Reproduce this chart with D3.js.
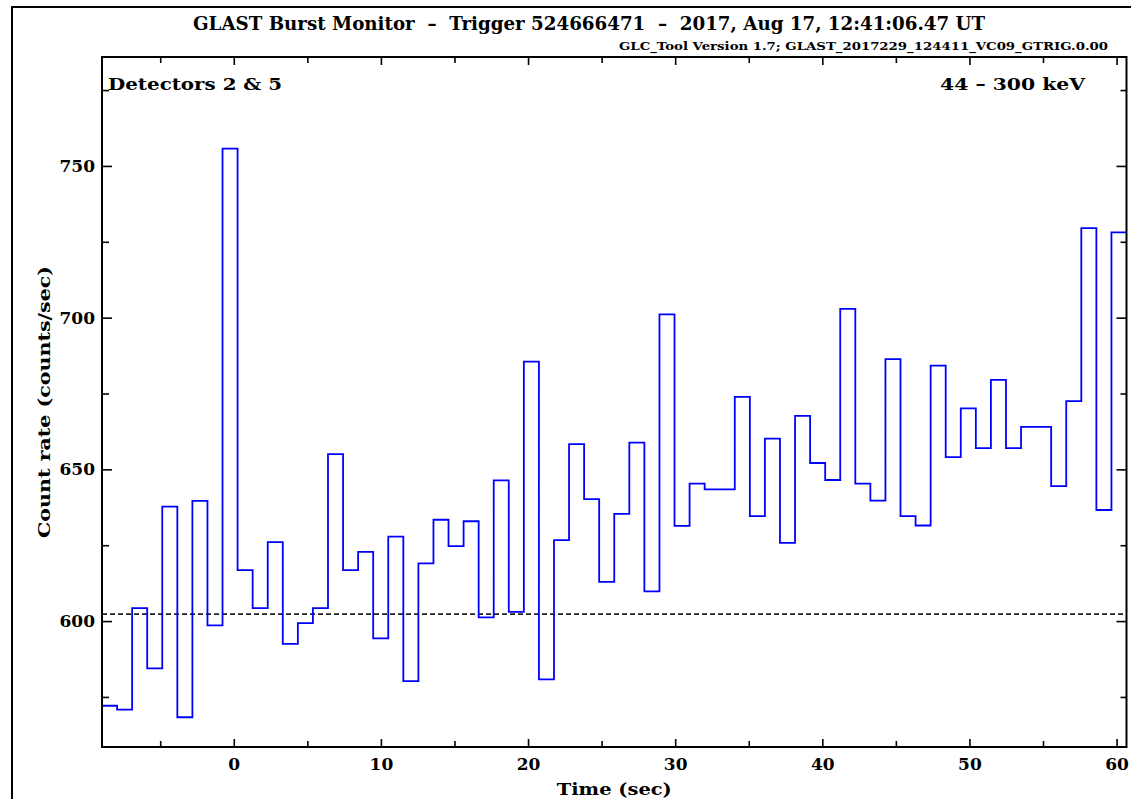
<!DOCTYPE html>
<html>
<head>
<meta charset="utf-8">
<script src="https://cdn.jsdelivr.net/npm/d3@7"></script>
<style>
  body { margin: 0; background: #fff; }
  svg { display: block; }
  text { font-family: "DejaVu Serif", serif; font-weight: bold; fill: #000; white-space: pre; }
</style>
</head>
<body>
<div id="chart"></div>
<script>
(function () {

  /**
   * data (1.024 s bins)
   */
  const binStart = -8.957;
  const binWidth = 1.024;
  const counts = [
    572.1, 570.8, 604.3, 584.4, 637.7, 568.3, 639.6, 598.6, 755.7, 616.8,
    604.3, 626.0, 592.5, 599.3, 604.3, 655.0, 616.8, 622.8, 594.3, 627.8,
    580.2, 619.0, 633.4, 624.7, 632.9, 601.2, 646.4, 603.0, 685.5, 580.8,
    626.7, 658.3, 640.2, 612.9, 635.3, 658.8, 609.8, 701.1, 631.4, 645.3,
    643.4, 643.4, 673.9, 634.6, 660.1, 625.8, 667.6, 652.1, 646.5, 702.9,
    645.3, 639.7, 686.3, 634.6, 631.5, 684.2, 654.0, 670.1, 657.0, 679.5,
    657.0, 664.0, 664.0, 644.5, 672.5, 729.5, 636.6, 728.1
  ];
  const background = 602.3;

  const xMajorTicks = [0, 10, 20, 30, 40, 50, 60];
  const xMinorTicks = [-5, 5, 15, 25, 35, 45, 55];
  const yMajorTicks = [600, 650, 700, 750];
  const yMinorTicks = [575, 625, 675, 725, 775];

  const title = "GLAST Burst Monitor  \u2013  Trigger 524666471  \u2013  2017, Aug 17, 12:41:06.47 UT";
  const subtitle = "GLC_Tool Version 1.7; GLAST_2017229_124411_VC09_GTRIG.0.00";

  const width = 1131;
  const height = 799;
  const margin = {left: 102, right: 4, top: 57, bottom: 52};

  const svg = d3.select("#chart").append("svg")
    .attr("width", width)
    .attr("height", height);

  // outer frame
  svg.append("rect")
    .attr("x", 12).attr("y", 7)
    .attr("width", 1140).attr("height", 820)
    .attr("fill", "none")
    .attr("stroke", "#000")
    .attr("stroke-width", 2);

  const x = d3.scaleLinear()
    .domain([binStart, binStart + counts.length * binWidth])
    .range([margin.left, width - margin.right - 0.5]);

  const y = d3.scaleLinear()
    .domain([558.5, 785.9])
    .range([height - margin.bottom, margin.top]);

  const x0 = x.range()[0], x1 = x.range()[1];
  const y0 = y.range()[0], y1 = y.range()[1];

  // axes, ticks pointing inward
  function axisStyle(g) {
    g.select(".domain").remove();
    g.selectAll(".tick line").attr("stroke", "#000").attr("stroke-width", 1.6);
    g.selectAll("text").style("font-size", "17px").style("font-family", "DejaVu Serif").style("font-weight", "bold");
  }

  svg.append("g")
    .attr("transform", "translate(0," + y0 + ")")
    .call(d3.axisBottom(x).tickValues(xMajorTicks).tickSize(-8).tickPadding(11).tickFormat(d3.format("d")))
    .call(axisStyle);
  svg.append("g")
    .attr("transform", "translate(0," + y0 + ")")
    .call(d3.axisBottom(x).tickValues(xMinorTicks).tickSize(-6).tickFormat(""))
    .call(axisStyle);
  svg.append("g")
    .attr("transform", "translate(0," + y1 + ")")
    .call(d3.axisTop(x).tickValues(xMajorTicks).tickSize(-8).tickFormat(""))
    .call(axisStyle);
  svg.append("g")
    .attr("transform", "translate(0," + y1 + ")")
    .call(d3.axisTop(x).tickValues(xMinorTicks).tickSize(-6).tickFormat(""))
    .call(axisStyle);

  svg.append("g")
    .attr("transform", "translate(" + x0 + ",0)")
    .call(d3.axisLeft(y).tickValues(yMajorTicks).tickSize(-10).tickPadding(7).tickFormat(d3.format("d")))
    .call(axisStyle);
  svg.append("g")
    .attr("transform", "translate(" + x0 + ",0)")
    .call(d3.axisLeft(y).tickValues(yMinorTicks).tickSize(-7).tickFormat(""))
    .call(axisStyle);
  svg.append("g")
    .attr("transform", "translate(" + x1 + ",0)")
    .call(d3.axisRight(y).tickValues(yMajorTicks).tickSize(-10).tickFormat(""))
    .call(axisStyle);
  svg.append("g")
    .attr("transform", "translate(" + x1 + ",0)")
    .call(d3.axisRight(y).tickValues(yMinorTicks).tickSize(-6).tickFormat(""))
    .call(axisStyle);

  // background level
  svg.append("line")
    .attr("x1", x0).attr("x2", x1)
    .attr("y1", y(background)).attr("y2", y(background))
    .attr("stroke", "#222")
    .attr("stroke-width", 1.6)
    .attr("stroke-dasharray", "5,3");

  // stepped lightcurve
  const steps = counts.map((c, i) => [binStart + i * binWidth, c]);
  steps.push([binStart + counts.length * binWidth, counts[counts.length - 1]]);

  const line = d3.line()
    .x(d => x(d[0]))
    .y(d => y(d[1]))
    .curve(d3.curveStepAfter);

  svg.append("path")
    .datum(steps)
    .attr("d", line)
    .attr("fill", "none")
    .attr("stroke", "#0000ff")
    .attr("stroke-width", 1.8);

  // plot frame
  svg.append("rect")
    .attr("x", x0).attr("y", y1)
    .attr("width", x1 - x0).attr("height", y0 - y1)
    .attr("fill", "none")
    .attr("stroke", "#000")
    .attr("stroke-width", 2);

  // texts (widths stretched to the monospace-like original)
  function label(str, px, py, len, anchor, size) {
    return svg.append("text")
      .attr("x", px).attr("y", py)
      .attr("text-anchor", anchor)
      .attr("textLength", len)
      .attr("lengthAdjust", "spacingAndGlyphs")
      .style("font-size", size + "px")
      .text(str);
  }

  label(title, 193, 30, 792, "start", 18);
  label(subtitle, 619, 50, 489, "start", 11);
  label("Detectors 2 & 5", 108, 90, 174, "start", 17);
  label("44 \u2013 300 keV", 1085, 90, 145, "end", 17);
  label("Time (sec)", (x0 + x1) / 2, 795, 115, "middle", 17);

  svg.append("text")
    .attr("transform", "translate(50," + ((y0 + y1) / 2) + ") rotate(-90)")
    .attr("text-anchor", "middle")
    .attr("textLength", 272)
    .attr("lengthAdjust", "spacingAndGlyphs")
    .style("font-size", "17px")
    .text("Count rate (counts/sec)");

})();
</script>
</body>
</html>
